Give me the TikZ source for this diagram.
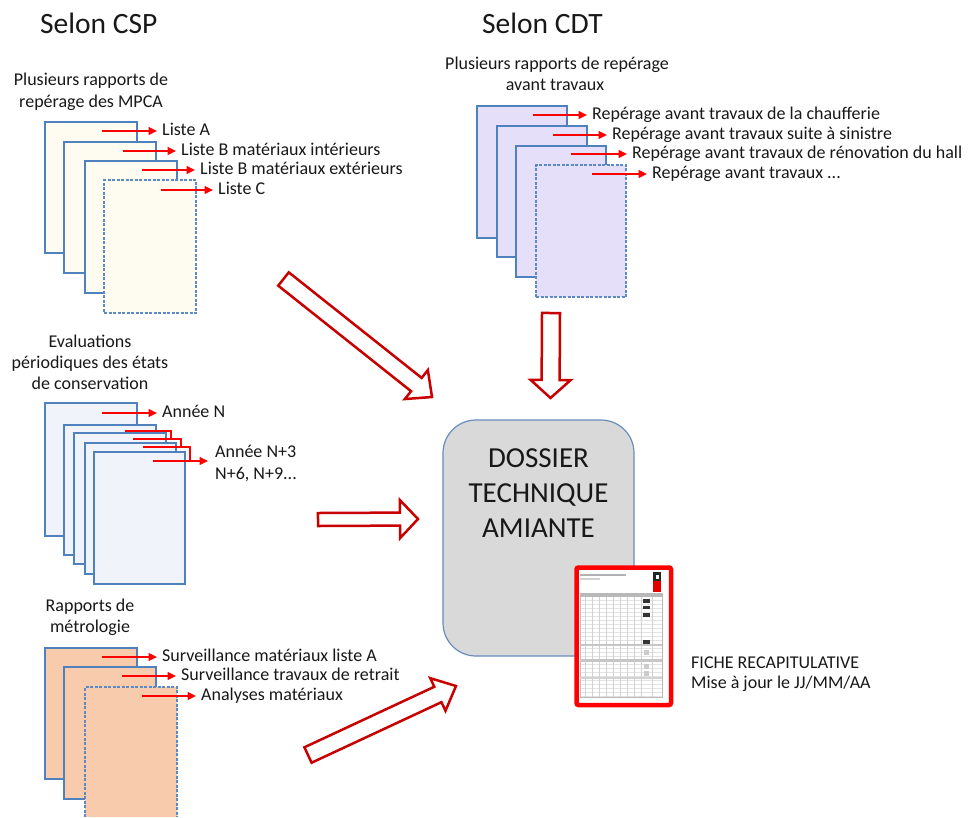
\documentclass[tikz,border=0pt]{standalone}
\usepackage{fontspec}
\setmainfont{Carlito}
\usetikzlibrary{calc,arrows.meta}
\definecolor{pgborder}{RGB}{79,129,189}
\definecolor{pgdash}{RGB}{91,138,198}
\definecolor{cream}{RGB}{254,251,240}
\definecolor{lavender}{RGB}{230,223,250}
\definecolor{paleblue}{RGB}{240,244,250}
\definecolor{peach}{RGB}{248,203,173}
\definecolor{dtagray}{RGB}{217,217,217}
\definecolor{dtaborder}{RGB}{104,140,190}
\definecolor{arrred}{RGB}{200,0,0}
\definecolor{txt}{RGB}{24,24,24}
\newcommand\fs{\fontsize{18}{21.5}\selectfont}
\newcommand\hollowarrow[5]{%
  \path let \p1=($(#2)-(#1)$) in \pgfextra{%
    \pgfmathsetmacro\hwA{atan2(\y1,\x1)}%
    \pgfmathsetmacro\hwL{veclen(\x1,\y1)}%
    \xdef\hwAng{\hwA}\xdef\hwLen{\hwL}};
  \draw[hollow, shift={(#1)}, rotate=\hwAng]
    (0pt,-#3pt) -- ({\hwLen pt-#5pt},-#3pt) -- ({\hwLen pt-#5pt},-#4pt) -- (\hwLen pt,0pt)
    -- ({\hwLen pt-#5pt},#4pt) -- ({\hwLen pt-#5pt},#3pt) -- (0pt,#3pt) -- cycle;}
\tikzset{
  pg/.style={draw=pgborder, line width=1.2pt, anchor=north west, inner sep=0pt, outer sep=0pt},
  pgd/.style={pg, draw=pgdash, dash pattern=on 3pt off 1.5pt},
  lbl/.style={anchor=west, inner sep=0pt, text height=11.5pt, text depth=3.5pt, font=\fs, text=txt},
  ttl/.style={anchor=base, inner sep=0pt, font=\fs, text=txt},
  ttlw/.style={anchor=base west, inner sep=0pt, font=\fs, text=txt},
  rarr/.style={red, line width=1.4pt, -{Triangle[length=8.5pt,width=8pt]}, shorten >=5pt},
  rln/.style={red, line width=1.4pt},
  hollow/.style={draw=arrred, line width=2.5pt, fill=white, line join=miter},
}
\begin{document}
\begin{tikzpicture}[x=1pt,y=-1pt]
\useasboundingbox (0,0) rectangle (973,817);

% headings
\node[anchor=base west, inner sep=0pt, font=\fontsize{29.5}{35}\selectfont, text=txt] (hcsp) at (40,33) {Selon CSP};
\node[anchor=base west, inner sep=0pt, font=\fontsize{29.5}{35}\selectfont, text=txt] (hcdt) at (482,33) {Selon CDT};

% ---------- stack 1 : MPCA ----------
\node[ttl] (t1a) at (91,85) {Plusieurs rapports de};
\node[ttl] (t1b) at (91,107) {repérage des MPCA};
\node[pg, fill=cream, minimum width=92pt, minimum height=131pt] (p11) at (45,122) {};
\node[pg, fill=cream, minimum width=92pt, minimum height=131pt] (p12) at (64,142) {};
\node[pg, fill=cream, minimum width=92pt, minimum height=132pt] (p13) at (85,161) {};
\node[pgd, fill=cream, minimum width=92pt, minimum height=133pt] (p14) at (104,180) {};
\coordinate (c11) at (102,131);
\coordinate (c12) at (123,151);
\coordinate (c13) at (142,170);
\coordinate (c14) at (161,190);
\node[lbl] (l11) at (162,131) {Liste A};
\node[lbl] (l12) at (181,151) {Liste B matériaux intérieurs};
\node[lbl] (l13) at (200,170) {Liste B matériaux extérieurs};
\node[lbl] (l14) at (218,190) {Liste C};
\draw[rarr] (c11) -- (l11.west);
\draw[rarr] (c12) -- (l12.west);
\draw[rarr] (c13) -- (l13.west);
\draw[rarr] (c14) -- (l14.west);

% ---------- stack 2 : CDT ----------
\node[ttl] (t2a) at (557,69) {Plusieurs rapports de repérage};
\node[ttl] (t2b) at (555,90) {avant travaux};
\node[pg, fill=lavender, minimum width=90pt, minimum height=132pt] (p21) at (477,106) {};
\node[pg, fill=lavender, minimum width=90pt, minimum height=131pt] (p22) at (497,126) {};
\node[pg, fill=lavender, minimum width=90pt, minimum height=131pt] (p23) at (516,146) {};
\node[pgd, fill=lavender, minimum width=90pt, minimum height=132pt] (p24) at (536,165) {};
\coordinate (c21) at (533,115);
\coordinate (c22) at (553,135);
\coordinate (c23) at (571,154);
\coordinate (c24) at (592,174);
\node[lbl] (l21) at (592,115) {Repérage avant travaux de la chaufferie};
\node[lbl] (l22) at (612,135) {Repérage avant travaux suite à sinistre};
\node[lbl] (l23) at (632,154) {Repérage avant travaux de rénovation du hall};
\node[lbl] (l24) at (652,174) {Repérage avant travaux ...};
\draw[rarr] (c21) -- (l21.west);
\draw[rarr] (c22) -- (l22.west);
\draw[rarr] (c23) -- (l23.west);
\draw[rarr] (c24) -- (l24.west);

% ---------- stack 3 : evaluations ----------
\node[ttl] (t3a) at (90,347) {Evaluations};
\node[ttl] (t3b) at (90,368) {périodiques des états};
\node[ttl] (t3c) at (90,389) {de conservation};
\node[pg, fill=paleblue, minimum width=92pt, minimum height=133pt] (p31) at (45,403) {};
\node[pg, fill=paleblue, minimum width=92pt, minimum height=130pt] (p32) at (64,425) {};
\node[pg, fill=paleblue, minimum width=92pt, minimum height=131pt] (p33) at (74,433) {};
\node[pg, fill=paleblue, minimum width=91pt, minimum height=131pt] (p34) at (85,443) {};
\node[pg, fill=paleblue, minimum width=91pt, minimum height=132pt] (p35) at (94,452) {};
\coordinate (c31) at (102,413);
\node[lbl] (l31) at (162,413) {Année N};
\draw[rarr] (c31) -- (l31.west);
\coordinate (s32) at (125,431);
\coordinate (e32) at (171,439);
\coordinate (s33) at (133,439);
\coordinate (e33) at (181,447);
\coordinate (s34) at (143,447);
\coordinate (e34) at (190,461);
\coordinate (s35) at (153,461);
\coordinate (e35) at (208,461);
\draw[rln] (s32) -| (e32);
\draw[rln] (s33) -| (e33);
\draw[rln] (s34) -| (e34);
\draw[rarr, shorten >=0pt] (s35) -- (e35);
\node[ttlw] (l35a) at (215,457) {Année N+3};
\node[ttlw] (l35b) at (215,479) {N+6, N+9...};

% ---------- stack 4 : metrologie ----------
\node[ttl] (t4a) at (90,611) {Rapports de};
\node[ttl] (t4b) at (90,632) {métrologie};
\node[pg, fill=peach, minimum width=92pt, minimum height=131pt] (p41) at (45,648) {};
\node[pg, fill=peach, minimum width=92pt, minimum height=132pt] (p42) at (64,667) {};
\fill[peach] (85,687) rectangle (177,817);
\draw[draw=pgdash, line width=1.2pt, dash pattern=on 3pt off 1.5pt] (85,817) -- (85,687) -- (177,687) -- (177,817);
\coordinate (c41) at (102,657);
\coordinate (c42) at (122,676);
\coordinate (c43) at (142,696);
\node[lbl] (l41) at (162,657) {Surveillance matériaux liste A};
\node[lbl] (l42) at (181,676) {Surveillance travaux de retrait};
\node[lbl] (l43) at (201,696) {Analyses matériaux};
\draw[rarr] (c41) -- (l41.west);
\draw[rarr] (c42) -- (l42.west);
\draw[rarr] (c43) -- (l43.west);

% ---------- central box ----------
\node[draw=dtaborder, fill=dtagray, line width=1.2pt, rounded corners=33pt,
      minimum width=191pt, minimum height=236pt, inner sep=0pt] (dta) at (538.5,538) {};
\node[inner sep=0pt, align=center, font=\fontsize{29}{35}\selectfont, text=txt] (dtatxt) at (538.5,493.5) {DOSSIER\\TECHNIQUE\\AMIANTE};

% ---------- fiche recapitulative ----------
\node[draw=red, fill=white, line width=4.5pt, rounded corners=2pt, anchor=north west,
      minimum width=94.5pt, minimum height=137.5pt, inner sep=0pt] (fiche) at (574.25,565.25) {};
\fill[gray!60] (580,574) rectangle (626,576);
\fill[gray!35] (580,578) rectangle (600,579.5);
\fill[red!90!black] (653,572) rectangle (661,592);
\fill[black!85] (653,572) rectangle (661,581);
\fill[white] (655.5,574.5) rectangle (658.5,579);
\foreach \y in {600,604,...,696} \draw[gray!22, line width=0.3pt] (580,\y) -- (662,\y);
\foreach \x in {585,592,599,606,613,620,627,634,641,652} \draw[gray!35, line width=0.3pt] (\x,593) -- (\x,697);
\draw[gray!55, line width=0.4pt] (580,593) rectangle (662,697);
\fill[gray!55] (580,593) rectangle (662,596.5);
\fill[gray!45] (580,644) rectangle (662,646);
\fill[gray!45] (580,659) rectangle (662,662);
\fill[gray!35] (580,677) rectangle (662,679);
\fill[black!80] (643,599) rectangle (650,603);
\fill[black!80] (643,606) rectangle (650,609);
\fill[black!80] (643,613) rectangle (650,617);
\fill[black!80] (643,640) rectangle (650,644);
\fill[gray!40] (644,650) rectangle (649,655);
\fill[gray!40] (644,664) rectangle (649,669);
\fill[gray!40] (644,671) rectangle (649,676);
\node[anchor=base west, inner sep=0pt, font=\fontsize{18}{21.5}\selectfont, text=txt] (f1) at (691,668) {FICHE RECAPITULATIVE};
\node[anchor=base west, inner sep=0pt, font=\fontsize{18}{21.5}\selectfont, text=txt] (f2) at (691,688) {Mise à jour le JJ/MM/AA};

% ---------- big hollow arrows ----------
\coordinate (a1s) at (283.5,279);
\coordinate (a1e) at (432,397);
\coordinate (a2s) at (551,313);
\coordinate (a2e) at (550.5,398);
\coordinate (a3s) at (318,519.5);
\coordinate (a3e) at (418,519);
\coordinate (a4s) at (308,755);
\coordinate (a4e) at (456,686);
\hollowarrow{a1s}{a1e}{8.5}{18.5}{20}
\hollowarrow{a2s}{a2e}{9}{20}{18}
\hollowarrow{a3s}{a3e}{6.5}{19}{18}
\hollowarrow{a4s}{a4e}{8.5}{18}{20}
\end{tikzpicture}
\end{document}
